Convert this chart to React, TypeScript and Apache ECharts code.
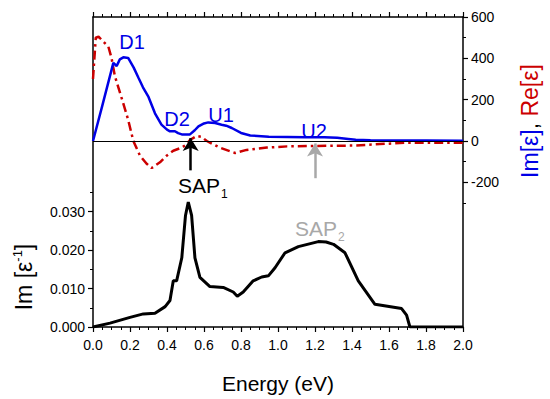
import React, { useEffect, useRef } from "react";
import * as echarts from "echarts";

// Im[ε] (blue, right axis)
const imEnergy = [0, 0.05, 0.11, 0.128, 0.145, 0.164, 0.19, 0.22, 0.245, 0.27, 0.30, 0.335, 0.37, 0.40, 0.416, 0.443, 0.46, 0.48, 0.524, 0.55, 0.57, 0.60, 0.623, 0.66, 0.695, 0.72, 0.75, 0.80, 0.85, 0.95, 1.05, 1.15, 1.25, 1.32, 1.38, 1.42, 1.5, 1.6, 1.8, 2.0];
const imEps = [0, 170, 378, 363, 395, 405, 402, 355, 307, 260, 213, 134, 79, 55, 47, 47, 38, 32, 32, 52, 71, 85, 90, 87, 79, 74, 63, 39, 27, 20, 19, 18, 18, 16, 10, 6, 4, 3, 2, 1];

// Re[ε] (red dash-dot, right axis)
const reEnergy = [0, 0.015, 0.03, 0.047, 0.083, 0.1, 0.118, 0.137, 0.164, 0.19, 0.218, 0.254, 0.29, 0.317, 0.362, 0.398, 0.434, 0.48, 0.506, 0.524, 0.56, 0.587, 0.615, 0.686, 0.768, 0.83, 0.94, 1.05, 1.2, 1.42, 1.55, 1.7, 1.85, 2.0];
const reEps = [300, 500, 505, 489, 457, 402, 315, 260, 181, 103, 0, -71, -110, -131, -103, -71, -47, -32, -16, 5, 24, 20, 0, -32, -58, -43, -32, -26, -24, -22, -15, -8, -8, -8];

// Im[1/ε] loss function (black, left axis)
const lossEnergy = [0, 0.092, 0.2, 0.272, 0.335, 0.39, 0.416, 0.434, 0.452, 0.48, 0.5, 0.515, 0.533, 0.551, 0.578, 0.632, 0.704, 0.758, 0.78, 0.812, 0.866, 0.912, 0.948, 0.984, 1.038, 1.11, 1.218, 1.26, 1.3, 1.362, 1.434, 1.524, 1.668, 1.695, 1.713, 2.0];
const lossFn = [0, 0.001, 0.0025, 0.0034, 0.0036, 0.0053, 0.0069, 0.012, 0.012, 0.018, 0.029, 0.0325, 0.029, 0.018, 0.0129, 0.0105, 0.0103, 0.0091, 0.008, 0.0091, 0.012, 0.013, 0.0133, 0.0154, 0.0193, 0.0209, 0.0222, 0.0221, 0.0215, 0.0193, 0.012, 0.0059, 0.0048, 0.0031, 0, 0];

const leftMajor = [0, 0.01, 0.02, 0.03];
const leftMinor = [0.005, 0.015, 0.025, 0.035];
const rightMajor = [-200, 0, 200, 400, 600];
const rightMinor = [-300, -100, 100, 300, 500];

// arrows: [energy, from value, to value]
const sap1Arrow = [0.528, -142, 14];
const sap2Arrow = [1.2, -180, -12];

const FONT = "Liberation Sans, Arial, sans-serif";
const zip = (a: number[], b: number[]) => a.map((x, i) => [x, b[i]]);

export default function App() {
  const ref = useRef<HTMLDivElement>(null);
  useEffect(() => {
    const chart = echarts.init(ref.current!, null, { renderer: "svg" });
    const axisLine = { show: true, onZero: false, lineStyle: { color: "#000", width: 1.5 } };
    const xCommon = {
      type: "value",
      min: 0,
      max: 2,
      interval: 0.2,
      splitLine: { show: false },
      axisLine,
      axisTick: { show: true, inside: false, length: 5, lineStyle: { color: "#000", width: 1.2 } },
      minorTick: { show: true, splitNumber: 4, length: 3, lineStyle: { color: "#000", width: 1 } },
    };
    chart.setOption({
      animation: false,
      backgroundColor: "#fff",
      textStyle: { fontFamily: FONT },
      grid: { left: 93, top: 17, width: 370, height: 317, containLabel: false },
      xAxis: [
        {
          ...xCommon,
          position: "bottom",
          axisLabel: { color: "#000", fontSize: 14, fontFamily: FONT, margin: 11, formatter: (v: number) => v.toFixed(1) },
          name: "Energy (eV)",
          nameLocation: "middle",
          nameGap: 46,
          nameTextStyle: { color: "#000", fontSize: 21, fontFamily: FONT },
        },
        { ...xCommon, position: "top", axisLabel: { show: false } },
      ],
      yAxis: [
        {
          type: "value",
          position: "left",
          min: 0,
          max: 0.0806,
          splitLine: { show: false },
          axisLine,
          axisTick: { show: true, length: 5, customValues: leftMajor, lineStyle: { color: "#000", width: 1.2 } },
          axisLabel: { color: "#000", fontSize: 14, fontFamily: FONT, margin: 8, customValues: leftMajor, formatter: (v: number) => v.toFixed(3) },
        },
        {
          type: "value",
          position: "right",
          min: -900,
          max: 600,
          splitLine: { show: false },
          axisLine,
          axisTick: { show: true, length: 5, customValues: rightMajor, lineStyle: { color: "#000", width: 1.2 } },
          axisLabel: { color: "#000", fontSize: 14, fontFamily: FONT, margin: 8, customValues: rightMajor, formatter: (v: number) => String(v) },
        },
        {
          type: "value",
          position: "left",
          min: 0,
          max: 0.0806,
          splitLine: { show: false },
          axisLine: { show: false, onZero: false },
          axisTick: { show: true, length: 3, customValues: leftMinor, lineStyle: { color: "#000", width: 1 } },
          axisLabel: { show: false },
        },
        {
          type: "value",
          position: "right",
          min: -900,
          max: 600,
          splitLine: { show: false },
          axisLine: { show: false, onZero: false },
          axisTick: { show: true, length: 3, customValues: rightMinor, lineStyle: { color: "#000", width: 1 } },
          axisLabel: { show: false },
        },
      ],
      series: [
        {
          type: "line",
          name: "Re",
          xAxisIndex: 0,
          yAxisIndex: 1,
          data: zip(reEnergy, reEps),
          showSymbol: false,
          symbol: "none",
          lineStyle: { color: "#cc0000", width: 2.5, type: [9, 4, 2.5, 4] },
          markLine: {
            silent: true,
            symbol: "none",
            label: { show: false },
            lineStyle: { color: "#000", width: 1, type: "solid" },
            data: [{ yAxis: 0 }],
          },
          z: 2,
        },
        {
          type: "line",
          name: "Im",
          xAxisIndex: 0,
          yAxisIndex: 1,
          data: zip(imEnergy, imEps),
          showSymbol: false,
          symbol: "none",
          lineStyle: { color: "#0000e6", width: 2.5 },
          markLine: {
            silent: true,
            symbol: ["none", "arrow"],
            symbolSize: [12, 13],
            label: { show: false },
            data: [
              [
                { coord: [sap1Arrow[0], sap1Arrow[1]], lineStyle: { color: "#000", width: 2.5, type: "solid" } },
                { coord: [sap1Arrow[0], sap1Arrow[2]] },
              ],
              [
                { coord: [sap2Arrow[0], sap2Arrow[1]], lineStyle: { color: "#a8a8a8", width: 2.5, type: "solid" } },
                { coord: [sap2Arrow[0], sap2Arrow[2]] },
              ],
            ],
          },
          z: 3,
        },
        {
          type: "line",
          name: "Loss",
          xAxisIndex: 0,
          yAxisIndex: 0,
          data: zip(lossEnergy, lossFn),
          showSymbol: false,
          symbol: "none",
          lineStyle: { color: "#000", width: 3 },
          z: 3,
        },
      ],
      graphic: [
        { type: "text", x: 132, y: 42, style: { text: "D1", fill: "#0000e6", font: `20px ${FONT}`, textAlign: "center", textVerticalAlign: "middle" } },
        { type: "text", x: 177, y: 119, style: { text: "D2", fill: "#0000e6", font: `20px ${FONT}`, textAlign: "center", textVerticalAlign: "middle" } },
        { type: "text", x: 221, y: 115, style: { text: "U1", fill: "#0000e6", font: `20px ${FONT}`, textAlign: "center", textVerticalAlign: "middle" } },
        { type: "text", x: 314, y: 131, style: { text: "U2", fill: "#0000e6", font: `20px ${FONT}`, textAlign: "center", textVerticalAlign: "middle" } },
        {
          type: "text",
          x: 178,
          y: 172,
          style: {
            text: "{a|SAP}{s|1}",
            rich: {
              a: { fontSize: 21, fontFamily: FONT, fill: "#000", color: "#000", lineHeight: 24, verticalAlign: "bottom" },
              s: { fontSize: 12, fontFamily: FONT, fill: "#000", color: "#000", lineHeight: 24, verticalAlign: "bottom", padding: [0, 0, -4, 1] },
            },
          },
        },
        {
          type: "text",
          x: 295,
          y: 215,
          style: {
            text: "{a|SAP}{s|2}",
            rich: {
              a: { fontSize: 21, fontFamily: FONT, fill: "#a8a8a8", color: "#a8a8a8", lineHeight: 24, verticalAlign: "bottom" },
              s: { fontSize: 12, fontFamily: FONT, fill: "#a8a8a8", color: "#a8a8a8", lineHeight: 24, verticalAlign: "bottom", padding: [0, 0, -4, 1] },
            },
          },
        },
        {
          type: "text",
          x: 24,
          y: 277,
          rotation: Math.PI / 2,
          style: {
            text: "{a|Im [ε}{s|-1}{a|]}",
            textAlign: "center",
            textVerticalAlign: "middle",
            rich: {
              a: { fontSize: 23, fontFamily: FONT, fill: "#000", color: "#000", lineHeight: 26, verticalAlign: "middle" },
              s: { fontSize: 13, fontFamily: FONT, fill: "#000", color: "#000", lineHeight: 26, verticalAlign: "top" },
            },
          },
        },
        {
          type: "text",
          x: 530,
          y: 121,
          rotation: Math.PI / 2,
          style: {
            text: "{b|Im[ε]}{k|, }{r|Re[ε]}",
            textAlign: "center",
            textVerticalAlign: "middle",
            rich: {
              b: { fontSize: 23, fontFamily: FONT, fill: "#0000e6", color: "#0000e6" },
              k: { fontSize: 23, fontFamily: FONT, fill: "#000", color: "#000" },
              r: { fontSize: 23, fontFamily: FONT, fill: "#cc0000", color: "#cc0000" },
            },
          },
        },
      ],
    });
    return () => chart.dispose();
  }, []);
  return <div ref={ref} style={{ width: 550, height: 399, position: "absolute", left: 0, top: 0 }} />;
}
